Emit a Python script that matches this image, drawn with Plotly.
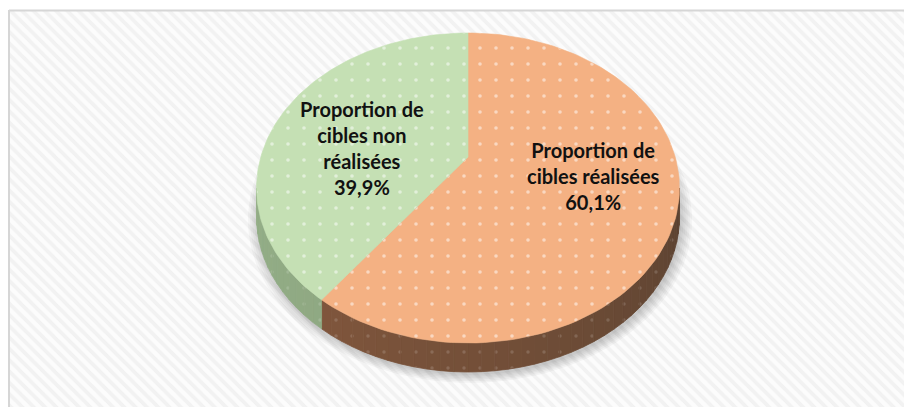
import numpy as np
import plotly.graph_objects as go

# ---- data ----
categories = ["Proportion de<br>cibles réalisées", "Proportion de<br>cibles non<br>réalisées"]
values = [60.1, 39.9]
top_colors = ["#F4B183", "#C5E0B4"]
side_light = ["#8D5D40", "#94AE87"]
side_dark = ["#5B4231", "#829B76"]

# ---- geometry (pixel space of the 912x407 window) ----
W, H = 912, 407
OFF = 8                      # default page body margin
CX, CY = 468, 157            # projected centre of the pie
A, B, K = 207.2, 148.8, -0.2  # perspective projection parameters
DEPTH = 29


def proj(phi_deg, depth=0.0):
    p = np.radians(phi_deg)
    u = np.sin(p)
    v = -np.cos(p)
    d = 1 + K * v
    return CX + A * u / d, CY + B * v / d + depth


def hex_to_rgb(h):
    h = h.lstrip("#")
    return np.array([int(h[i:i + 2], 16) for i in (0, 2, 4)], dtype=float)


def mix(c1, c2, t):
    c = hex_to_rgb(c1) * (1 - t) + hex_to_rgb(c2) * t
    return "rgb(%d,%d,%d)" % tuple(c.round())


fig = go.Figure()

# background hatch
fig.add_trace(go.Scatter(
    x=[9, W + 5, W + 5, 9, 9], y=[11, 11, H + 5, H + 5, 11],
    mode="lines", fill="toself", line=dict(width=0),
    fillcolor="#f8f8f8",
    fillpattern=dict(shape="\\", size=8, solidity=0.45, fgcolor="#e7e7e7", bgcolor="#fcfcfc"),
    hoverinfo="skip", showlegend=False))

# soft shadow
phis_all = np.linspace(0, 360, 181)
bx, by = proj(phis_all, DEPTH)
bcx, bcy = CX, CY + DEPTH + 30
for s in np.linspace(1.05, 1.0, 6):
    fig.add_trace(go.Scatter(
        x=bcx + (bx - bcx) * s + 2, y=bcy + (by - bcy) * s + 3,
        mode="lines", fill="toself", line=dict(width=0),
        fillcolor="rgba(0,0,0,0.035)", hoverinfo="skip", showlegend=False))

# slice angles (clockwise from 12 o'clock)
total = sum(values)
starts, ends = [], []
acc = 0.0
for v in values:
    starts.append(acc)
    acc += v / total * 360
    ends.append(acc)

# visible side range (front)
phi_right = np.degrees(np.arccos(K))
phi_left = 360 - phi_right

# side walls
for i in range(len(values)):
    a0 = max(starts[i], phi_right)
    a1 = min(ends[i], phi_left)
    if a1 <= a0:
        continue
    nseg = max(1, int((a1 - a0) / 3))
    edges = np.linspace(a0, a1, nseg + 1)
    for j in range(nseg):
        e0, e1 = edges[j], edges[j + 1]
        pts = np.linspace(e0, e1, 6)
        tx, ty = proj(pts)
        bx2, by2 = proj(pts[::-1], DEPTH)
        t = (0.5 * (e0 + e1) - phi_right) / (phi_left - phi_right)
        col = mix(side_dark[i], side_light[i], t)
        fig.add_trace(go.Scatter(
            x=np.concatenate([tx, bx2, tx[:1]]), y=np.concatenate([ty, by2, ty[:1]]),
            mode="lines", fill="toself", line=dict(width=0.8, color=col),
            fillcolor=col,
            fillpattern=dict(shape=".", size=16, solidity=0.035,
                             fgcolor="rgba(255,255,255,0.3)", bgcolor=col),
            hoverinfo="skip", showlegend=False))

# top slices
for i in range(len(values)):
    pts = np.linspace(starts[i], ends[i], 120)
    ex, ey = proj(pts)
    xs = np.concatenate([[CX], ex, [CX]])
    ys = np.concatenate([[CY], ey, [CY]])
    fig.add_trace(go.Scatter(
        x=xs, y=ys, mode="lines", fill="toself",
        line=dict(width=0.6, color=top_colors[i]),
        fillcolor=top_colors[i],
        fillpattern=dict(shape=".", size=16, solidity=0.04,
                         fgcolor="white", bgcolor=top_colors[i]),
        hoverinfo="skip", showlegend=False))

# labels
label_pos = [(593, 176), (362, 148)]
for i in range(len(values)):
    txt = categories[i] + "<br>" + ("%.1f%%" % values[i]).replace(".", ",")
    fig.add_annotation(x=label_pos[i][0], y=label_pos[i][1], xref="x", yref="y",
                       text=txt, showarrow=False, align="center",
                       font=dict(family="Lato", size=20, color="#111111", weight="bold"))

# border (top and left edges visible)
fig.add_shape(type="line", xref="x", yref="y", x0=9, y0=10.5, x1=W + 5, y1=10.5,
              line=dict(color="#d6d6d6", width=2))
fig.add_shape(type="line", xref="x", yref="y", x0=9, y0=10, x1=9, y1=H + 5,
              line=dict(color="#d6d6d6", width=2))

fig.update_layout(
    width=W - OFF, height=H - OFF, margin=dict(l=0, r=0, t=0, b=0),
    paper_bgcolor="white", plot_bgcolor="white",
    xaxis=dict(range=[OFF, W], visible=False, fixedrange=True),
    yaxis=dict(range=[H, OFF], visible=False, fixedrange=True),
    showlegend=False)

fig.write_html("out.html")
